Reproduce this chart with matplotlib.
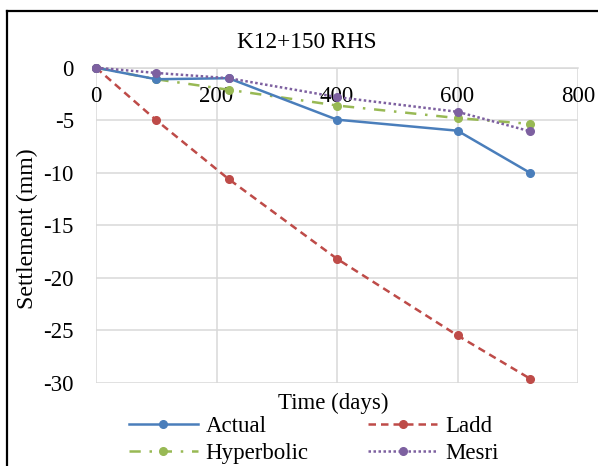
import matplotlib
matplotlib.use("Agg")
import matplotlib.pyplot as plt
from matplotlib.lines import Line2D

plt.rcParams['font.family'] = ['Liberation Serif', 'DejaVu Serif']
plt.rcParams['axes.unicode_minus'] = False

# Settlement records at K12+150 RHS
time_days = [0, 100, 220, 400, 600, 720]
actual = [0, -1.1, -1.0, -4.95, -6.0, -10.0]
ladd = [0, -5.0, -10.6, -18.2, -25.5, -29.6]
hyperbolic = [0, -1.1, -2.1, -3.6, -4.8, -5.35]
mesri = [0, -0.5, -1.0, -2.8, -4.2, -6.05]

x_ticks = [0, 200, 400, 600, 800]
y_ticks = [0, -5, -10, -15, -20, -25, -30]

FS = 16.5
W, H = 598, 466
fig = plt.figure(figsize=(W / 100, H / 100), dpi=100)
ax = fig.add_axes([96 / W, 1 - 382.7 / H, (578 - 96) / W, (382.7 - 67.7) / H])

grid_c = '#d9d9d9'
ax.set_xlim(0, 800)
ax.set_ylim(-30, 0)
ax.set_xticks(x_ticks)
ax.set_yticks(y_ticks)
ax.grid(True, color=grid_c, linewidth=1.1)
ax.set_axisbelow(True)
for s in ['left', 'right', 'top']:
    ax.spines[s].set_visible(False)
ax.spines['bottom'].set_position(('data', 0))
ax.spines['bottom'].set_color(grid_c)
ax.spines['bottom'].set_linewidth(1.1)
ax.tick_params(axis='both', length=0, labelsize=FS)
ax.tick_params(axis='x', pad=13)
ax.tick_params(axis='y', pad=16)

lw = 1.8
ms = 5.5
h1, = ax.plot(time_days, actual, color='#4a7ebb', lw=lw, marker='o', ms=ms,
              label='Actual', clip_on=False, zorder=5)
h2, = ax.plot(time_days, ladd, color='#be4b48', lw=lw, ls=(0, (3, 2)), marker='o', ms=ms,
              label='Ladd', clip_on=False, zorder=4)
h3, = ax.plot(time_days, hyperbolic, color='#98b954', lw=lw, ls=(0, (4.5, 3.5, 1, 3.5)),
              marker='o', ms=ms, label='Hyperbolic', clip_on=False, zorder=3)
h4, = ax.plot(time_days, mesri, color='#7d60a0', lw=lw, ls=(0, (1, 1)), marker='o', ms=ms,
              label='Mesri', clip_on=False, zorder=6)

fig.text(27 / W, 1 - 229 / H, 'Settlement (mm)', rotation=90, ha='center', va='center',
         fontsize=17.2)
fig.text(333 / W, 1 - 403 / H, 'Time (days)', ha='center', va='center', fontsize=FS)
fig.text(307 / W, 1 - 42 / H, 'K12+150 RHS', ha='center', va='center', fontsize=16.8)

leg = fig.legend(handles=[h1, h3, h2, h4], ncol=2, frameon=False, fontsize=FS,
                 loc='upper left', bbox_to_anchor=(129 / W, 1 - 416 / H),
                 handlelength=3.0, columnspacing=2.6, handletextpad=0.35,
                 labelspacing=0.27, borderpad=0, borderaxespad=0)

# outer chart frame
fig.add_artist(Line2D([7 / W, 7 / W], [0, 1 - 11 / H], transform=fig.transFigure,
                      color='black', lw=1.6))
fig.add_artist(Line2D([7 / W, 1], [1 - 11 / H, 1 - 11 / H], transform=fig.transFigure,
                      color='black', lw=1.6))

fig.savefig('out.png', dpi=100)
